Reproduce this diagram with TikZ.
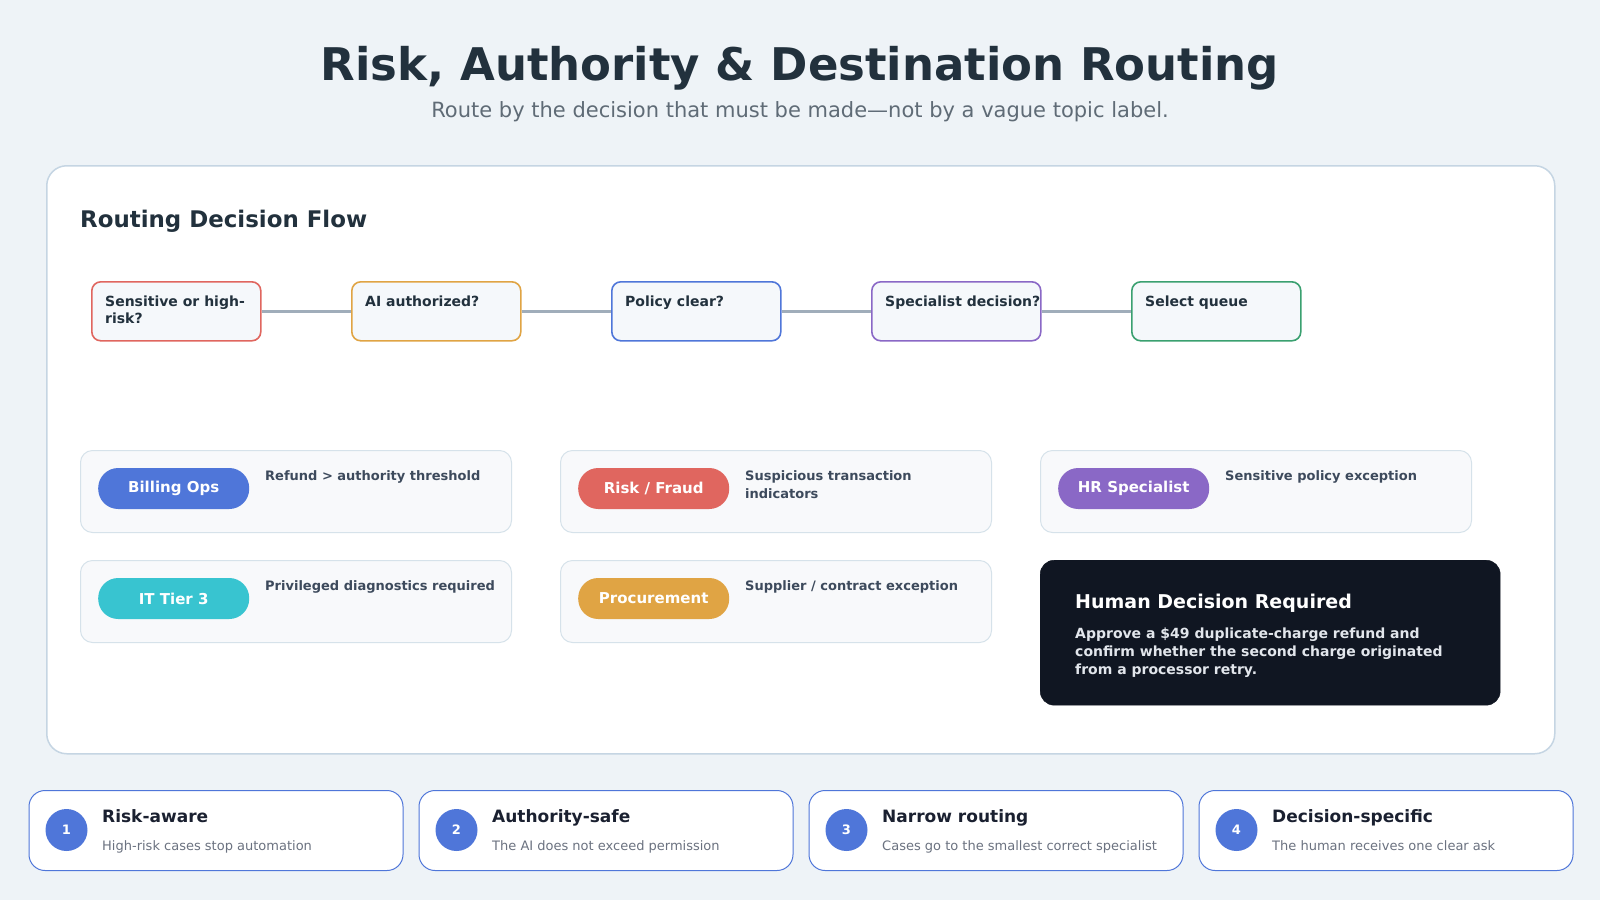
\documentclass[tikz,border=0pt]{standalone}
\usepackage{fontspec}
\setmainfont{DejaVu Sans}
\newcommand\myfs[2]{\fontsize{#1}{#2}\selectfont}
\definecolor{bgc}{HTML}{EEF3F7}
\definecolor{panelborder}{HTML}{C5D5E3}
\definecolor{titlec}{HTML}{22313D}
\definecolor{subc}{HTML}{5F6B76}
\definecolor{flowfill}{HTML}{F5F8FB}
\definecolor{connc}{HTML}{A0ADBA}
\definecolor{cardfill}{HTML}{F8F9FB}
\definecolor{cardborder}{HTML}{D6E2EA}
\definecolor{descc}{HTML}{3D4A5C}
\definecolor{darkc}{HTML}{101622}
\definecolor{bodyc}{HTML}{E2E6EC}
\definecolor{cblue}{HTML}{4F76D9}
\definecolor{cteal}{HTML}{38C4D0}
\definecolor{cred}{HTML}{E0665F}
\definecolor{corange}{HTML}{E0A444}
\definecolor{cpurple}{HTML}{8A68C6}
\definecolor{cgreen}{HTML}{3AA070}
\definecolor{btitle}{HTML}{1A2030}
\definecolor{bsub}{HTML}{6B7280}
\begin{document}
\begin{tikzpicture}[x=1pt,y=-1pt,
  panel/.style={draw=panelborder,line width=1.5pt,fill=white,rounded corners=20pt,anchor=north west,minimum width=1508pt,minimum height=588pt,inner sep=0pt},
  flowbox/.style={line width=1.6pt,fill=flowfill,rounded corners=9pt,anchor=north west,minimum width=169pt,minimum height=59pt,inner sep=0pt},
  flowtext/.style={anchor=north west,inner sep=0pt,align=left,text=titlec,font=\myfs{14}{17.5}\bfseries},
  conn/.style={draw=connc,line width=3pt},
  card/.style={draw=cardborder,line width=1pt,fill=cardfill,rounded corners=12pt,anchor=north west,minimum width=431pt,minimum height=82pt,inner sep=0pt},
  pill/.style={rounded corners=20pt,anchor=west,minimum width=151pt,minimum height=41pt,inner sep=0pt,text=white,font=\myfs{15}{18}\bfseries},
  desc/.style={anchor=north west,inner sep=0pt,align=left,text=descc,font=\myfs{13}{17.5}\bfseries},
  bcard/.style={draw=cblue,line width=1pt,fill=white,rounded corners=16pt,anchor=north west,minimum width=374pt,minimum height=80pt,inner sep=0pt},
  bcirc/.style={circle,fill=cblue,minimum size=42pt,inner sep=0pt,text=white,font=\myfs{13}{15}\bfseries},
  btitle/.style={anchor=base west,inner sep=0pt,text=btitle,font=\myfs{17}{20}\bfseries},
  bsub/.style={anchor=base west,inner sep=0pt,text=bsub,font=\myfs{13}{15}}
]
\useasboundingbox (0,0) rectangle (1600,900);
\fill[bgc] (0,0) rectangle (1600,900);

% Title
\node[anchor=base,inner sep=0pt,text=titlec,font=\myfs{45}{50}\bfseries] (title) at (800,80) {Risk, Authority \& Destination Routing};
\node[anchor=base,inner sep=0pt,text=subc,font=\myfs{21}{25}] (subtitle) at (800,117.5) {Route by the decision that must be made—not by a vague topic label.};

% Panel
\node[panel] (panel) at (46,165) {};
\node[anchor=base west,inner sep=0pt,text=titlec,font=\myfs{22.9}{27}\bfseries] (flowhead) at (80,227) {Routing Decision Flow};

% Flow boxes
\node[flowbox,draw=cred] (f1) at (91,281) {};
\node[flowbox,draw=corange] (f2) at (351,281) {};
\node[flowbox,draw=cblue] (f3) at (611,281) {};
\node[flowbox,draw=cpurple] (f4) at (871,281) {};
\node[flowbox,draw=cgreen] (f5) at (1131,281) {};
\draw[conn] (f1.east) -- (f2.west);
\draw[conn] (f2.east) -- (f3.west);
\draw[conn] (f3.east) -- (f4.west);
\draw[conn] (f4.east) -- (f5.west);
\node[flowtext] (f1t) at (105,295.5) {Sensitive or high-\\risk?};
\node[flowtext] (f2t) at (365,295.5) {AI authorized?};
\node[flowtext] (f3t) at (625,295.5) {Policy clear?};
\node[flowtext] (f4t) at (885,295.5) {Specialist decision?};
\node[flowtext] (f5t) at (1145,295.5) {Select queue};

% Route cards
\node[card] (c1) at (80,450) {};
\node[card] (c2) at (560,450) {};
\node[card] (c3) at (1040,450) {};
\node[card] (c4) at (80,560) {};
\node[card] (c5) at (560,560) {};
\node[pill,fill=cblue] (p1) at (98,488.5) {Billing Ops};
\node[pill,fill=cred] (p2) at (578,488.5) {Risk / Fraud};
\node[pill,fill=cpurple] (p3) at (1058,488.5) {HR Specialist};
\node[pill,fill=cteal] (p4) at (98,598.5) {IT Tier 3};
\node[pill,fill=corange] (p5) at (578,598.5) {Procurement};
\node[desc] (d1) at (265,470.5) {Refund > authority threshold};
\node[desc] (d2) at (745,470.5) {Suspicious transaction\\indicators};
\node[desc] (d3) at (1225,470.5) {Sensitive policy exception};
\node[desc] (d4) at (265,580.5) {Privileged diagnostics required};
\node[desc] (d5) at (745,580.5) {Supplier / contract exception};

% Human decision
\node[fill=darkc,draw=darkc,rounded corners=14pt,anchor=north west,minimum width=460pt,minimum height=145pt,inner sep=0pt] (human) at (1040,560) {};
\node[anchor=base west,inner sep=0pt,text=white,font=\myfs{19}{22}\bfseries] (humant) at (1075,608) {Human Decision Required};
\node[anchor=north west,inner sep=0pt,align=left,text=bodyc,font=\myfs{14}{18.2}\bfseries] (humanb) at (1075,627.2) {Approve a \$49 duplicate-charge refund and\\confirm whether the second charge originated\\from a processor retry.};

% Bottom cards
\node[bcard] (b1) at (28.5,790) {};
\node[bcard] (b2) at (418.5,790) {};
\node[bcard] (b3) at (808.5,790) {};
\node[bcard] (b4) at (1198.5,790) {};
\node[bcirc] (n1) at (66.5,830) {1};
\node[bcirc] (n2) at (456.5,830) {2};
\node[bcirc] (n3) at (846.5,830) {3};
\node[bcirc] (n4) at (1236.5,830) {4};
\node[btitle] (t1) at (102,822) {Risk-aware};
\node[btitle] (t2) at (492,822) {Authority-safe};
\node[btitle] (t3) at (882,822) {Narrow routing};
\node[btitle] (t4) at (1272,822) {Decision-specific};
\node[bsub] (s1) at (102,850.5) {High-risk cases stop automation};
\node[bsub] (s2) at (492,850.5) {The AI does not exceed permission};
\node[bsub] (s3) at (882,850.5) {Cases go to the smallest correct specialist};
\node[bsub] (s4) at (1272,850.5) {The human receives one clear ask};
\end{tikzpicture}
\end{document}
